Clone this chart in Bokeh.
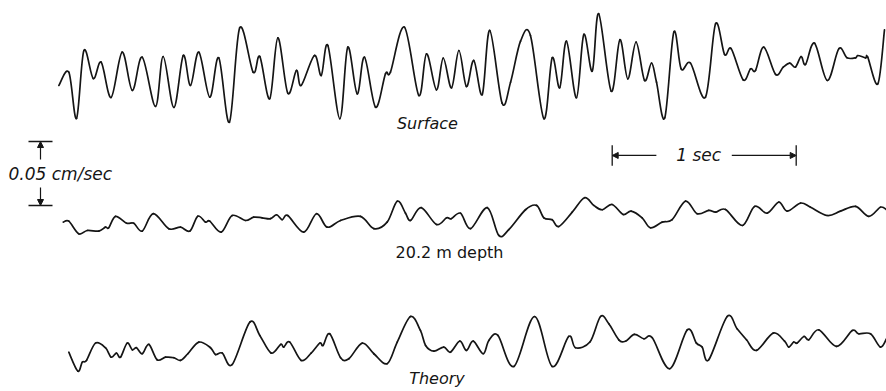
from bokeh.plotting import figure
from bokeh.models import Range1d, Label, Arrow, NormalHead
from bokeh.embed import file_html
from bokeh.resources import INLINE

# ---- data: time (s) and ground velocity (units of 0.001 cm/sec) ----
surface_t = [0.002, 0.056, 0.098, 0.138, 0.189, 0.232, 0.286, 0.346, 0.401, 0.455,
             0.527, 0.569, 0.627, 0.678, 0.717, 0.763, 0.822, 0.871, 0.929, 0.985,
             1.058, 1.094, 1.148, 1.192, 1.246, 1.293, 1.319, 1.391, 1.428, 1.464,
             1.529, 1.572, 1.623, 1.663, 1.723, 1.777, 1.804, 1.880, 1.958, 2.000,
             2.054, 2.091, 2.136, 2.176, 2.217, 2.257, 2.303, 2.344, 2.411, 2.457,
             2.511, 2.565, 2.638, 2.683, 2.724, 2.761, 2.815, 2.855, 2.901, 2.936,
             3.004, 3.051, 3.094, 3.139, 3.185, 3.223, 3.250, 3.295, 3.344, 3.384,
             3.435, 3.516, 3.571, 3.620, 3.656, 3.721, 3.761, 3.788, 3.833, 3.897,
             3.939, 3.974, 4.005, 4.036, 4.060, 4.109, 4.178, 4.241, 4.286, 4.332,
             4.344, 4.386, 4.398, 4.453, 4.489]
surface_v = [-11.7, -1.3, -37.5, 15.6, -6.3, 6.5, -21.1, 14.3, -15.6, 10.4,
             -28.1, 10.9, -28.9, 11.7, -11.7, 14.3, -20.9, 9.9, -40.4, 33.4,
             -1.3, 10.9, -22.1, 25.5, -17.7, 0.0, -11.7, 11.7, -3.9, 19.5,
             -37.7, 18.2, -18.2, 10.4, -28.7, -2.6, -1.3, 33.8, -19.5, 13.0,
             -15.1, 9.6, -13.5, 15.6, -12.5, 7.8, -18.8, 31.3, -25.5, -9.1,
             22.9, 27.3, -37.7, 9.9, -13.5, 22.9, -21.3, 28.1, -0.5, 44.3,
             -16.2, 24.0, -6.5, 22.1, -7.8, 5.7, -9.1, -37.0, 29.9, 1.3,
             5.7, -20.9, 36.5, 12.5, 17.0, -7.3, 1.3, 0.0, 18.2, -3.1,
             2.6, 5.7, 2.6, 10.9, 4.7, 21.3, -7.8, 17.0, 9.9, 9.9,
             11.7, 9.9, 10.4, -10.4, 31.8]

depth_t = [0.026, 0.056, 0.110, 0.156, 0.219, 0.255, 0.273, 0.310, 0.370, 0.409,
           0.455, 0.515, 0.599, 0.663, 0.714, 0.757, 0.799, 0.822, 0.884, 0.944,
           1.016, 1.061, 1.107, 1.152, 1.185, 1.216, 1.246, 1.333, 1.402, 1.460,
           1.533, 1.641, 1.714, 1.786, 1.841, 1.886, 1.913, 1.971, 2.054, 2.109,
           2.134, 2.185, 2.239, 2.330, 2.393, 2.447, 2.538, 2.598, 2.638, 2.683,
           2.719, 2.792, 2.859, 2.909, 2.955, 3.009, 3.069, 3.112, 3.172, 3.217,
           3.281, 3.335, 3.408, 3.471, 3.534, 3.571, 3.625, 3.716, 3.783, 3.851,
           3.915, 3.960, 4.033, 4.087, 4.178, 4.250, 4.332, 4.404, 4.467, 4.500]
depth_v = [-2.9, -2.1, -12.0, -9.4, -9.9, -6.8, -7.3, 1.6, -3.7, -3.7,
           -9.9, 3.7, -8.0, -6.8, -9.9, 1.8, -2.9, -2.1, -10.7, 2.3,
           -1.6, 1.0, 0.5, -0.2, 2.9, -1.0, 2.3, -10.7, 3.7, -6.8,
           -1.6, 1.6, -8.0, -2.9, 13.5, 4.1, -1.6, 8.4, -4.7, 0.5,
           -0.2, 4.1, -8.0, 8.4, -13.3, -8.8, 6.8, 10.2, 0.5, -1.0,
           -6.3, 4.9, 16.2, 10.2, 6.8, 10.9, 3.1, 5.7, 0.5, -7.3,
           -2.9, -1.0, 13.5, 3.7, 6.3, 4.9, 7.0, -5.5, 9.4, 4.1,
           12.7, 5.7, 12.0, 8.8, 2.3, 5.7, 9.4, 1.6, 8.8, 6.8]

theory_t = [0.056, 0.105, 0.129, 0.152, 0.201, 0.255, 0.286, 0.315, 0.337, 0.373,
            0.401, 0.424, 0.455, 0.491, 0.536, 0.582, 0.627, 0.663, 0.703, 0.763,
            0.826, 0.853, 0.890, 0.944, 1.040, 1.094, 1.156, 1.207, 1.224, 1.257,
            1.319, 1.373, 1.420, 1.438, 1.474, 1.533, 1.578, 1.651, 1.714, 1.786,
            1.841, 1.913, 1.967, 1.995, 2.040, 2.094, 2.130, 2.181, 2.217, 2.254,
            2.308, 2.339, 2.388, 2.475, 2.587, 2.683, 2.773, 2.810, 2.888, 2.946,
            2.991, 3.045, 3.082, 3.130, 3.181, 3.227, 3.322, 3.417, 3.467, 3.498,
            3.534, 3.634, 3.688, 3.739, 3.793, 3.884, 3.946, 3.969, 3.996, 4.014,
            4.051, 4.078, 4.132, 4.228, 4.314, 4.349, 4.413, 4.467, 4.500]
theory_v = [-4.5, -19.3, -12.3, -10.9, 2.6, -1.0, -8.4, -5.2, -8.4, 2.6,
            -2.6, -1.0, -5.7, 1.6, -10.4, -8.4, -8.8, -10.9, -5.7, 3.4,
            -1.0, -6.3, -5.2, -14.1, 19.0, 8.6, -5.2, 1.6, -0.5, 3.4,
            -10.9, -5.2, 2.6, 0.8, 9.9, -8.8, -9.6, 2.6, -5.7, -13.5,
            3.4, 23.4, 12.5, 0.8, -3.7, -0.5, -4.5, 4.1, -3.1, 4.1,
            -5.7, 4.7, 8.6, -15.6, 23.4, -15.6, 7.8, -1.0, 3.4, 23.4,
            17.7, 5.2, 4.1, 9.4, 6.0, 6.8, -17.4, 13.0, 2.6, -0.5,
            -10.4, 23.4, 13.8, 5.2, -3.1, 10.4, 4.1, -0.5, 3.4, 2.6,
            7.8, 5.2, 13.0, 0.0, 12.5, 9.9, 9.9, -0.5, 6.0]

trace_labels = ["Surface", "20.2 m depth", "Theory"]
scale_velocity = 50          # 0.05 cm/sec in units of 0.001 cm/sec
scale_time = 1.0             # 1 sec
scale_velocity_label = "0.05 cm/sec"
scale_time_label = "1 sec"

# ---- layout (positions / styles) ----
W, H = 886, 391
PX_PER_SEC = 184.0
PX_PER_UNIT = 64.0 / 50.0
x0 = -58 / PX_PER_SEC
y_top = H / PX_PER_UNIT
OFFSETS = [250.8, 135.2, 35.2]
INK = "#151515"
FONT = "DejaVu Sans"

p = figure(width=W, height=H, output_backend="svg", toolbar_location=None,
           x_range=Range1d(x0, x0 + W / PX_PER_SEC), y_range=Range1d(0, y_top),
           x_axis_type=None, y_axis_type=None, min_border=0,
           outline_line_color=None, background_fill_color="white",
           border_fill_color="white")
p.grid.visible = False


def smooth_curve(ts, vs, off):
    """Draw a Catmull-Rom curve through the read points, as bezier segments."""
    ys = [v + off for v in vs]
    n = len(ts)
    xa, ya, xb, yb, c0x, c0y, c1x, c1y = [], [], [], [], [], [], [], []
    for i in range(n - 1):
        im, ip2 = max(i - 1, 0), min(i + 2, n - 1)
        xa.append(ts[i]); ya.append(ys[i])
        xb.append(ts[i + 1]); yb.append(ys[i + 1])
        c0x.append(ts[i] + (ts[i + 1] - ts[im]) / 6.0)
        c0y.append(ys[i] + (ys[i + 1] - ys[im]) / 6.0)
        c1x.append(ts[i + 1] - (ts[ip2] - ts[i]) / 6.0)
        c1y.append(ys[i + 1] - (ys[ip2] - ys[i]) / 6.0)
    p.bezier(x0=xa, y0=ya, x1=xb, y1=yb, cx0=c0x, cy0=c0y, cx1=c1x, cy1=c1y,
             line_color=INK, line_width=1.7, line_cap="round")


series = [(surface_t, surface_v), (depth_t, depth_v), (theory_t, theory_v)]
for (ts, vs), off in zip(series, OFFSETS):
    smooth_curve(ts, vs, off)

# trace labels
label_pos = [(2.005, 209.4, "italic"), (2.125, 108.6, "normal"), (2.057, 10.5, "italic")]
for txt, (lx, ly, st) in zip(trace_labels, label_pos):
    p.add_layout(Label(x=lx, y=ly, text=txt, text_font=FONT, text_font_size="16px",
                       text_font_style=st, text_align="center", text_baseline="middle",
                       text_color=INK))

# velocity scale bar
sb_x = (40 - 58) / PX_PER_SEC
sb_bot = 145.3
sb_top = sb_bot + scale_velocity
half = 12 / PX_PER_SEC
p.segment(x0=[sb_x - half, sb_x - half], y0=[sb_top, sb_bot],
          x1=[sb_x + half, sb_x + half], y1=[sb_top, sb_bot],
          line_color=INK, line_width=1.3)
mid = (sb_top + sb_bot) / 2
p.add_layout(Arrow(end=NormalHead(size=6, fill_color=INK, line_color=INK),
                   x_start=sb_x, y_start=mid + 11, x_end=sb_x, y_end=sb_top,
                   line_color=INK, line_width=1.2))
p.add_layout(Arrow(end=NormalHead(size=6, fill_color=INK, line_color=INK),
                   x_start=sb_x, y_start=mid - 11, x_end=sb_x, y_end=sb_bot,
                   line_color=INK, line_width=1.2))
p.add_layout(Label(x=(8 - 58) / PX_PER_SEC, y=mid, text=scale_velocity_label,
                   text_font=FONT, text_font_size="17px", text_font_style="italic",
                   text_align="left", text_baseline="middle", text_color=INK))

# time scale bar
tb_l = (611.7 - 58) / PX_PER_SEC
tb_r = tb_l + scale_time
tb_y = 184.4
tick = 8
p.segment(x0=[tb_l, tb_r], y0=[tb_y - tick, tb_y - tick],
          x1=[tb_l, tb_r], y1=[tb_y + tick, tb_y + tick],
          line_color=INK, line_width=1.3)
p.add_layout(Arrow(end=NormalHead(size=6, fill_color=INK, line_color=INK),
                   x_start=tb_l + 0.24, y_start=tb_y, x_end=tb_l, y_end=tb_y,
                   line_color=INK, line_width=1.2))
p.add_layout(Arrow(end=NormalHead(size=6, fill_color=INK, line_color=INK),
                   x_start=tb_r - 0.35, y_start=tb_y, x_end=tb_r, y_end=tb_y,
                   line_color=INK, line_width=1.2))
p.add_layout(Label(x=(tb_l + tb_r) / 2 - 0.03, y=tb_y, text=scale_time_label,
                   text_font=FONT, text_font_size="17px", text_font_style="italic",
                   text_align="center", text_baseline="middle", text_color=INK))

open("out.html", "w").write(file_html(p, INLINE))
